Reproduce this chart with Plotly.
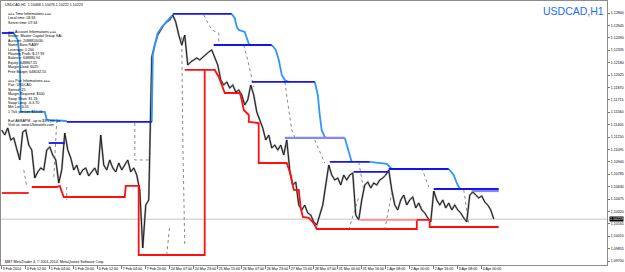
import plotly.graph_objects as go

# ---------------- data ----------------
close_bars = list(range(0, 330, 2))
close_prices = [
    1.11338, 1.11275, 1.11363, 1.11213, 1.11238, 1.11088, 1.10963, 1.11313, 1.11338, 1.11150,
    1.11088, 1.10738, 1.10813, 1.10863, 1.10838, 1.11088, 1.11125, 1.11025, 1.10963, 1.10675,
    1.10838, 1.11300, 1.11088, 1.10988, 1.10838, 1.10900, 1.10775, 1.10838, 1.10863, 1.10763,
    1.10813, 1.10863, 1.10775, 1.11275, 1.10900, 1.10838, 1.10963, 1.10863, 1.10813, 1.10925,
    1.10838, 1.10900, 1.10963, 1.10813, 1.10863, 1.10775, 1.10588, 1.09863, 1.10400, 1.10463,
    1.12250, 1.12400, 1.12525, 1.12588, 1.12650, 1.12688, 1.12713, 1.12775, 1.12688, 1.12525,
    1.12400, 1.12525, 1.12150, 1.12188, 1.12213, 1.12238, 1.12213, 1.12250, 1.12275, 1.12313,
    1.12338, 1.12238, 1.12150, 1.11963, 1.11900, 1.11938, 1.11863, 1.11900, 1.11813, 1.11838,
    1.11775, 1.11650, 1.11713, 1.11900, 1.11775, 1.11563, 1.11463, 1.11363, 1.11213, 1.11275,
    1.11113, 1.11150, 1.11088, 1.11150, 1.11025, 1.11213, 1.10838, 1.10650, 1.10688, 1.10400,
    1.10338, 1.10400, 1.10300, 1.10275, 1.10188, 1.10150, 1.10275, 1.10400, 1.10650, 1.10900,
    1.10775, 1.10713, 1.10738, 1.10650, 1.10775, 1.10713, 1.10775, 1.10800, 1.10275, 1.10213,
    1.10463, 1.10650, 1.10688, 1.10613, 1.10675, 1.10650, 1.10713, 1.10738, 1.10775, 1.10838,
    1.10588, 1.10400, 1.10338, 1.10463, 1.10525, 1.10400, 1.10463, 1.10500, 1.10363, 1.10425,
    1.10338, 1.10300, 1.10238, 1.10188, 1.10575, 1.10463, 1.10400, 1.10463, 1.10363, 1.10425,
    1.10338, 1.10400, 1.10338, 1.10300, 1.10238, 1.10188, 1.10525, 1.10563, 1.10525, 1.10488,
    1.10513, 1.10438, 1.10400, 1.10338, 1.10225,
]
last_price = 1.10223

x_tick_bars = list(range(0, 321, 16))
x_tick_labels = [
    "3 Feb 2014", "4 Feb 12:00", "5 Feb 04:00", "5 Feb 20:00", "6 Feb 12:00",
    "7 Feb 04:00", "7 Feb 20:00", "24 Mar 07:00", "24 Mar 23:00", "25 Mar 15:00",
    "26 Mar 07:00", "26 Mar 23:00", "27 Mar 15:00", "28 Mar 07:00", "31 Mar 00:00",
    "31 Mar 16:00", "1 Apr 08:00", "2 Apr 00:00", "2 Apr 16:00", "3 Apr 08:00", "4 Apr 00:00",
]
y_tick_values = [
    1.12800, 1.12645, 1.12490, 1.12335, 1.12180, 1.12025, 1.11870, 1.11715, 1.11560, 1.11405,
    1.11250, 1.11095, 1.10940, 1.10785, 1.10630, 1.10475, 1.10320, 1.10165, 1.10010, 1.09855,
    1.09700,
]

# resistance (upper) lines: flat parts
res_flat_bars = [[0, 8], [43.3, 100], [31.3, 42], [114, 153.3], [141.3, 180], [166.7, 208.7],
                 [218.7, 245.3], [234.7, 258], [258, 298], [288, 331.3]]
res_flat_prices = [[1.12550, 1.12550], [1.11438, 1.11438], [1.11175, 1.11175], [1.12788, 1.12788],
                   [1.12400, 1.12400], [1.11938, 1.11938], [1.10938, 1.10938], [1.10813, 1.10813],
                   [1.10850, 1.10850], [1.10600, 1.10600]]
res_soft_bars = [[188.7, 228.7], [313.3, 331.3]]
res_soft_prices = [[1.11238, 1.11238], [1.10575, 1.10575]]
# resistance trailing (descending / rising) parts
res_trail_bars = [
    [8, 10.7, 12, 12.7, 28.7, 30, 43.3],
    [100, 100.7, 102, 104, 106.7, 110, 113.3],
    [153.3, 155.3, 156.7, 158, 162, 163.3, 164.7, 166],
    [180, 182.7, 184.7, 186.7, 188.7, 191.3],
    [208.7, 210.7, 212, 213.3, 215.3, 216.7],
    [228.7, 230, 232, 233.3],
    [245.3, 256.7, 260],
    [298, 301.3, 303.3, 305.3],
]
res_trail_prices = [
    [1.12550, 1.12463, 1.12213, 1.11563, 1.11563, 1.11463, 1.11450],
    [1.11438, 1.12275, 1.12400, 1.12550, 1.12625, 1.12688, 1.12763],
    [1.12788, 1.12738, 1.12625, 1.12588, 1.12563, 1.12488, 1.12413, 1.12400],
    [1.12400, 1.12338, 1.12213, 1.12025, 1.11963, 1.11938],
    [1.11938, 1.11775, 1.11525, 1.11338, 1.11250, 1.11238],
    [1.11238, 1.11150, 1.11025, 1.10938],
    [1.10938, 1.10913, 1.10850],
    [1.10850, 1.10775, 1.10675, 1.10600],
]

# support (lower) lines
sup_bars = [
    [0, 18],
    [20, 36.7, 38.7, 40.7, 41.3, 82, 82.7, 91.3, 91.3, 135.3, 135.3],
    [122, 142, 144.7, 146.7, 148.7, 158.7, 160, 161.3, 163.3, 164.7, 164.7, 171.3, 171.3, 190,
     192, 194.7, 198, 199.3, 200.7, 204.7, 206.7, 208.7, 210, 276.7, 276.7, 285.3, 285.3, 331.3],
]
sup_prices = [
    [1.10550, 1.10550],
    [1.10625, 1.10625, 1.10638, 1.10550, 1.10500, 1.10500, 1.10638, 1.10638, 1.09775, 1.09775, 1.12088],
    [1.12088, 1.12088, 1.12000, 1.11900, 1.11800, 1.11800, 1.11713, 1.11588, 1.11550, 1.11525,
     1.11438, 1.11425, 1.10925, 1.10925, 1.10813, 1.10588, 1.10588, 1.10363, 1.10250, 1.10238,
     1.10200, 1.10150, 1.10100, 1.10100, 1.10213, 1.10213, 1.10125, 1.10125],
]
sup_soft_bars = [238, 276.7]
sup_soft_prices = [1.10213, 1.10213]

# dotted trailing-stop lines
dot_bars = [[14.7, 16.7], [34.7, 36.7], [43.3, 43.3], [88.7, 88.7, 100], [120, 120.7, 122],
            [110, 112], [134.7, 140, 144.7, 144.7], [161.3, 164, 168], [188.7, 193.3, 195.3],
            [208.7, 215.3], [231.3, 238], [238, 241.3], [255.3, 260], [280, 284.7], [308, 311.3]]
dot_prices = [[1.10838, 1.10625], [1.10750, 1.11463], [1.10625, 1.10463],
              [1.11425, 1.10963, 1.10963], [1.12500, 1.11213, 1.09900], [1.09775, 1.10150],
              [1.12775, 1.12588, 1.12550, 1.12400], [1.12400, 1.12213, 1.11875],
              [1.11938, 1.11338, 1.11250], [1.11213, 1.10925], [1.10088, 1.10500],
              [1.10938, 1.10588], [1.10088, 1.10550], [1.10863, 1.10625], [1.10588, 1.10163]]

info_header = "USDCAD,H1  1.10468 1.10476 1.10222 1.10223"
info_lines = [
    "=== Time Informations ===", "Local time: 03:34", "Server time: 07:34", "",
    "=== Account Informations ===", "Broker: Master Capital Group SAL", "Account: 2088810030",
    "Name: Bass RAMY", "Leverage: 1:200", "Floating Profit: $-17.99", "Balance: 648880.94",
    "Equity: 648867.55", "Margin Used: 6025", "Free Margin: 648032.55", "",
    "=== Pair Informations ===", "Pair: USDCAD", "Spread: 25", "Margin Required: $500",
    "Swap Short: 81.26", "Swap Long: -6.3.70", "Min Lot: 0.01", "1 Tick per Lot: $10.00", "",
    "Earl AEBAPM - up to $3.5 per lot", "Visit us: www.Ultimatefx.com",
]
footer_text = "MBT MetaTrader 4, \u00a9 2001-2014, MetaQuotes Software Corp."
title_text = "USDCAD,H1"

# ---------------- figure ----------------
W, H = 625, 272
ML, MR, MT, MB = 1, 18, 1, 7
PH = H - MT - MB


def py(ypx):
    return (H - MB - ypx) / PH


fig = go.Figure()

for bx, pr in zip(dot_bars, dot_prices):
    fig.add_trace(go.Scatter(x=bx, y=pr, mode="lines",
                             line=dict(color="#8a8a8a", width=1, dash="dot")))

fig.add_trace(go.Scatter(x=close_bars, y=close_prices, mode="lines",
                         line=dict(color="#a0a0a0", width=2)))
fig.add_trace(go.Scatter(x=close_bars, y=close_prices, mode="lines",
                         line=dict(color="#111111", width=0.9)))

for bx, pr in zip(sup_bars, sup_prices):
    fig.add_trace(go.Scatter(x=bx, y=pr, mode="lines",
                             line=dict(color="#ff1010", width=1.8)))
fig.add_trace(go.Scatter(x=sup_soft_bars, y=sup_soft_prices, mode="lines",
                         line=dict(color="#ff8c8c", width=1.8)))

for bx, pr in zip(res_trail_bars, res_trail_prices):
    fig.add_trace(go.Scatter(x=bx, y=pr, mode="lines",
                             line=dict(color="#2f95ff", width=1.8)))
for bx, pr in zip(res_flat_bars, res_flat_prices):
    fig.add_trace(go.Scatter(x=bx, y=pr, mode="lines",
                             line=dict(color="#1414ee", width=1.8)))
for bx, pr in zip(res_soft_bars, res_soft_prices):
    fig.add_trace(go.Scatter(x=bx, y=pr, mode="lines",
                             line=dict(color="#8585ff", width=2.2)))

small = dict(family="Liberation Sans, Arial, sans-serif", size=3.6, color="#000000")

annotations = [
    dict(text=info_header, x=0.004, y=py(4.5), xref="paper", yref="paper",
         xanchor="left", yanchor="middle", showarrow=False, font=small),
    dict(text=footer_text, x=0.004, y=py(261.5), xref="paper", yref="paper",
         xanchor="left", yanchor="middle", showarrow=False, font=small),
    dict(text=title_text, x=0.999, y=py(10.5), xref="paper", yref="paper",
         xanchor="right", yanchor="middle", showarrow=False,
         font=dict(family="Liberation Sans, Arial, sans-serif", size=10.5, color="#1c6dff")),
    dict(text=f"{last_price:.5f}", x=1.0, y=last_price, xref="paper", yref="y",
         xanchor="left", yanchor="middle", xshift=2, showarrow=False, bgcolor="#000000",
         borderpad=0, font=dict(family="Liberation Sans, Arial, sans-serif", size=3.6,
                                color="#ffffff")),
]
for i, line in enumerate(info_lines):
    if not line:
        continue
    annotations.append(dict(text=line, x=0.009, y=py(14 + i * 4.45), xref="paper",
                            yref="paper", xanchor="left", yanchor="middle",
                            showarrow=False, font=small))

fig.update_layout(
    width=W, height=H,
    margin=dict(l=ML, r=MR, t=MT, b=MB),
    paper_bgcolor="#ffffff", plot_bgcolor="#ffffff",
    showlegend=False,
    annotations=annotations,
    shapes=[dict(type="line", xref="paper", yref="y", x0=0, x1=1, y0=last_price,
                 y1=last_price, line=dict(color="#c4c4c4", width=1), layer="below")],
    xaxis=dict(range=[-0.5, 403.5], showgrid=False, zeroline=False,
               tickmode="array", tickvals=x_tick_bars, ticktext=x_tick_labels,
               tickangle=0,
               ticks="outside", ticklen=3, tickcolor="#777777",
               ticklabelposition="outside right",
               tickfont=dict(family="Liberation Sans, Arial, sans-serif", size=3.6,
                             color="#000000"),
               showline=True, linecolor="#8c8c8c", linewidth=1, mirror=True),
    yaxis=dict(range=[1.0965, 1.1295], side="right", showgrid=False, zeroline=False,
               tickmode="array", tickvals=y_tick_values,
               ticktext=[f"{v:.5f}" for v in y_tick_values],
               ticks="outside", ticklen=2, tickcolor="#777777",
               tickfont=dict(family="Liberation Sans, Arial, sans-serif", size=3.6,
                             color="#000000"),
               showline=True, linecolor="#8c8c8c", linewidth=1, mirror=True),
)

fig.write_html("out.html")
